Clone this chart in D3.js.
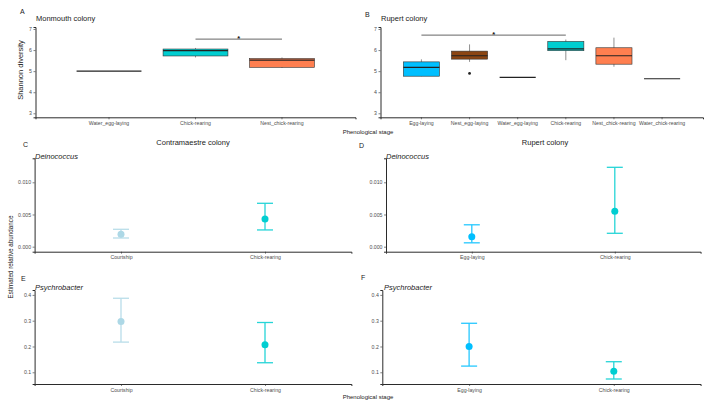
<!DOCTYPE html>
<html>
<head>
<meta charset="utf-8">
<script src="https://cdn.jsdelivr.net/npm/d3@7"></script>
<style>
  body { margin: 0; background: #fff; }
  svg { font-family: "Liberation Sans", Arial, sans-serif; }
</style>
</head>
<body>
<svg id="fig" width="709" height="407"></svg>
<script>
// ---- data ----
// boxplots: [min, q1, median, q3, max]
const stagesA = ["Water_egg-laying", "Chick-rearing", "Nest_chick-rearing"];
const boxA = [[5.0, 5.0, 5.0, 5.0, 5.0], [5.65, 5.72, 5.97, 6.05, 6.1], [5.15, 5.18, 5.52, 5.6, 5.65]];
const fillA = ["#cccccc", "#00CED1", "#FF7F50"];

const stagesB = ["Egg-laying", "Nest_egg-laying", "Water_egg-laying", "Chick-rearing", "Nest_chick-rearing", "Water_chick-rearing"];
const boxB = [[4.76, 4.76, 5.18, 5.44, 5.56], [5.44, 5.57, 5.73, 5.95, 6.27], [4.7, 4.7, 4.7, 4.7, 4.7],
              [5.52, 5.97, 6.06, 6.41, 6.5], [5.21, 5.33, 5.73, 6.11, 6.59], [4.64, 4.64, 4.64, 4.64, 4.64]];
const outliersB = [[], [4.89], [], [], [], []];
const fillB = ["#00BFFF", "#8B4513", "#cccccc", "#00CED1", "#FF7F50", "#cccccc"];

const shannonTicks = [3, 4, 5, 6, 7];

// estimated relative abundance: mean, lower, upper
const stagesContra = ["Courtship", "Chick-rearing"];
const stagesRupert = ["Egg-laying", "Chick-rearing"];
const colContra = ["#ADD8E6", "#00CED1"];
const colRupert = ["#00BFFF", "#00CED1"];

const deinoC = { mean: [0.00193, 0.0043], lo: [0.00135, 0.0026], hi: [0.0027, 0.00674] };
const deinoD = { mean: [0.00155, 0.0055], lo: [0.0006, 0.00208], hi: [0.0034, 0.01233] };
const psychE = { mean: [0.297, 0.207], lo: [0.217, 0.137], hi: [0.387, 0.293] };
const psychF = { mean: [0.2, 0.104], lo: [0.124, 0.074], hi: [0.29, 0.141] };

const deinoTicks = [0, 0.005, 0.010];
const psychTicks = [0.1, 0.2, 0.3, 0.4];

const svg = d3.select("#fig");
const axisCol = "#2b2b2b";
const tickTextCol = "#4d4d4d";

function drawAxes(g, x, y, ticks, fmt) {
  const xa = g.append("g")
    .attr("transform", `translate(0,${y.range()[0]})`)
    .call(d3.axisBottom(x).tickSize(2).tickPadding(2));
  const ya = g.append("g")
    .attr("transform", `translate(${x.range()[0]},0)`)
    .call(d3.axisLeft(y).tickValues(ticks).tickFormat(fmt).tickSize(2).tickPadding(1.5));
  [xa, ya].forEach(a => {
    a.select(".domain").attr("stroke", axisCol).attr("stroke-width", 1);
    a.selectAll(".tick line").attr("stroke", axisCol).attr("stroke-width", 0.6);
    a.selectAll(".tick text").attr("fill", tickTextCol).style("font-size", "5.2px")
      .style("font-family", "Liberation Sans, Arial, sans-serif");
  });
}

function boxPanel(opts) {
  const g = svg.append("g");
  const x = d3.scaleBand().domain(opts.stages).range(opts.xr).paddingInner(0.25).paddingOuter(0.475);
  const y = d3.scaleLinear().domain(opts.yd).range(opts.yr);
  drawAxes(g, x, y, shannonTicks, d3.format("d"));

  opts.stages.forEach((s, i) => {
    const b = opts.box[i];
    const cx = x(s) + x.bandwidth() / 2;
    // whiskers
    g.append("line").attr("x1", cx).attr("x2", cx).attr("y1", y(b[0])).attr("y2", y(b[4]))
      .attr("stroke", "#444").attr("stroke-width", 0.6);
    g.append("rect").attr("x", x(s)).attr("width", x.bandwidth())
      .attr("y", y(b[3])).attr("height", Math.max(0, y(b[1]) - y(b[3])))
      .attr("fill", opts.fill[i]).attr("stroke", "#333").attr("stroke-width", 0.6);
    g.append("line").attr("x1", x(s)).attr("x2", x(s) + x.bandwidth())
      .attr("y1", y(b[2])).attr("y2", y(b[2])).attr("stroke", "#222").attr("stroke-width", 1.2);
    (opts.outliers ? opts.outliers[i] : []).forEach(o => {
      g.append("circle").attr("cx", cx).attr("cy", y(o)).attr("r", 1.4).attr("fill", "#222");
    });
  });

  // significance bar
  const sig = opts.sig;
  const xs1 = x(sig.from) + x.bandwidth() / 2, xs2 = x(sig.to) + x.bandwidth() / 2;
  g.append("line").attr("x1", xs1).attr("x2", xs2).attr("y1", y(sig.y)).attr("y2", y(sig.y))
    .attr("stroke", "#555").attr("stroke-width", 0.9);
  g.append("text").attr("x", (xs1 + xs2) / 2).attr("y", y(sig.y) + 2)
    .attr("text-anchor", "middle").style("font-size", "7.5px").style("font-weight", "bold")
    .attr("fill", "#111").text("*");

  g.append("text").attr("x", opts.letter[0]).attr("y", opts.letter[1])
    .style("font-size", "7px").attr("fill", "#222").text(opts.letterText);
  g.append("text").attr("x", opts.title[0]).attr("y", opts.title[1])
    .style("font-size", "7.5px").attr("fill", "#222").text(opts.titleText);
}

function errPanel(opts) {
  const g = svg.append("g");
  const x = d3.scalePoint().domain(opts.stages).range(opts.xr).padding(0.6);
  const y = d3.scaleLinear().domain(opts.yd).range(opts.yr);
  drawAxes(g, x, y, opts.ticks, opts.fmt);
  const cap = 8;
  opts.stages.forEach((s, i) => {
    const cx = x(s);
    const c = opts.colors[i];
    const eg = g.append("g").attr("stroke", c).attr("stroke-width", 1.3).attr("opacity", 0.85);
    eg.append("line").attr("x1", cx).attr("x2", cx).attr("y1", y(opts.d.lo[i])).attr("y2", y(opts.d.hi[i]));
    eg.append("line").attr("x1", cx - cap).attr("x2", cx + cap).attr("y1", y(opts.d.lo[i])).attr("y2", y(opts.d.lo[i]));
    eg.append("line").attr("x1", cx - cap).attr("x2", cx + cap).attr("y1", y(opts.d.hi[i])).attr("y2", y(opts.d.hi[i]));
    g.append("circle").attr("cx", cx).attr("cy", y(opts.d.mean[i])).attr("r", 3.5).attr("fill", c);
  });
  g.append("text").attr("x", opts.letter[0]).attr("y", opts.letter[1])
    .style("font-size", "7px").attr("fill", "#222").text(opts.letterText);
  if (opts.titleText) {
    g.append("text").attr("x", opts.title[0]).attr("y", opts.title[1]).attr("text-anchor", "middle")
      .style("font-size", "7.5px").attr("fill", "#222").text(opts.titleText);
  }
  g.append("text").attr("x", opts.genus[0]).attr("y", opts.genus[1])
    .style("font-size", "7.5px").style("font-style", "italic").attr("fill", "#222").text(opts.genusText);
}

// ---- top row: Shannon diversity ----
const shannonDomain = [2.81, 7.095];
boxPanel({ stages: stagesA, box: boxA, fill: fillA, xr: [35.5, 355.5], yr: [117.3, 27], yd: shannonDomain,
  sig: { from: "Chick-rearing", to: "Nest_chick-rearing", y: 6.52 },
  letter: [20, 13.5], letterText: "A", title: [36, 20.5], titleText: "Monmouth colony" });
boxPanel({ stages: stagesB, box: boxB, outliers: outliersB, fill: fillB, xr: [380.5, 703], yr: [117.3, 27], yd: shannonDomain,
  sig: { from: "Egg-laying", to: "Chick-rearing", y: 6.71 },
  letter: [365, 17], letterText: "B", title: [381, 21], titleText: "Rupert colony" });

svg.append("text").attr("transform", "translate(23,70) rotate(-90)").attr("text-anchor", "middle")
  .style("font-size", "7.5px").attr("fill", "#222").text("Shannon diversity");
svg.append("text").attr("x", 368).attr("y", 134).attr("text-anchor", "middle")
  .style("font-size", "6px").attr("fill", "#222").text("Phenological stage");

// ---- middle row: Deinococcus ----
const deinoDomain = [-0.00078, 0.01373];
errPanel({ stages: stagesContra, colors: colContra, d: deinoC, xr: [34.6, 351.4], yr: [251.7, 158.3], yd: deinoDomain,
  ticks: deinoTicks, fmt: d3.format(".3f"), letter: [23, 147], letterText: "C",
  title: [193, 145], titleText: "Contramaestre colony", genus: [35, 158.5], genusText: "Deinococcus" });
errPanel({ stages: stagesRupert, colors: colRupert, d: deinoD, xr: [386, 700.6], yr: [251.7, 158.3], yd: deinoDomain,
  ticks: deinoTicks, fmt: d3.format(".3f"), letter: [359, 148], letterText: "D",
  title: [545, 145], titleText: "Rupert colony", genus: [386, 158.5], genusText: "Deinococcus" });

// ---- bottom row: Psychrobacter ----
const psychDomain = [0.0546, 0.419];
errPanel({ stages: stagesContra, colors: colContra, d: psychE, xr: [34.6, 351.4], yr: [384, 290], yd: psychDomain,
  ticks: psychTicks, fmt: d3.format(".1f"), letter: [21, 281], letterText: "E",
  genus: [35, 290], genusText: "Psychrobacter" });
errPanel({ stages: stagesRupert, colors: colRupert, d: psychF, xr: [382.3, 700.6], yr: [384, 290], yd: psychDomain,
  ticks: psychTicks, fmt: d3.format(".1f"), letter: [361, 280], letterText: "F",
  genus: [384, 290], genusText: "Psychrobacter" });

svg.append("text").attr("transform", "translate(13,257) rotate(-90)").attr("text-anchor", "middle")
  .style("font-size", "6.3px").attr("fill", "#222").text("Estimated relative abundance");
svg.append("text").attr("x", 368).attr("y", 398.5).attr("text-anchor", "middle")
  .style("font-size", "6px").attr("fill", "#222").text("Phenological stage");
</script>
</body>
</html>
